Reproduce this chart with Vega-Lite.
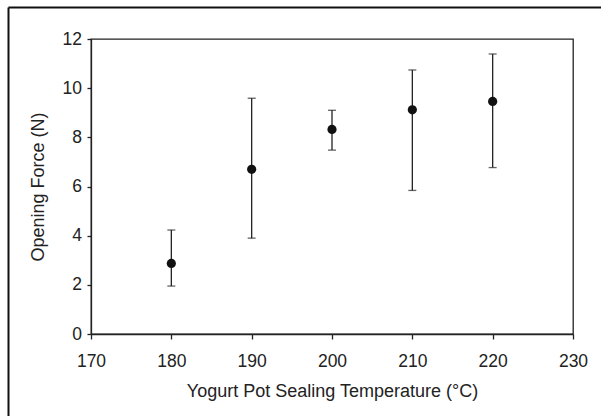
{
  "$schema": "https://vega.github.io/schema/vega-lite/v6.json",
  "width": 482,
  "height": 295,
  "autosize": "none",
  "padding": {"left": 91, "top": 39, "right": 28, "bottom": 82},
  "background": "white",
  "config": {
    "view": {"stroke": "#222", "strokeWidth": 1.3},
    "font": "Liberation Sans",
    "axis": {
      "grid": false,
      "domainColor": "#222",
      "domainWidth": 1.3,
      "tickColor": "#222",
      "tickWidth": 1.3,
      "labelColor": "#222",
      "titleColor": "#222",
      "labelFont": "Liberation Sans",
      "titleFont": "Liberation Sans",
      "labelFontSize": 17.5,
      "titleFontSize": 18,
      "titleFontWeight": "normal",
      "labelFlush": false,
      "labelOverlap": false
    }
  },
  "data": {
    "values": [
      {"temp": 180, "force": 2.87, "low": 1.95, "high": 4.23},
      {"temp": 190, "force": 6.70, "low": 3.90, "high": 9.59},
      {"temp": 200, "force": 8.32, "low": 7.48, "high": 9.10},
      {"temp": 210, "force": 9.12, "low": 5.84, "high": 10.74},
      {"temp": 220, "force": 9.46, "low": 6.77, "high": 11.39}
    ]
  },
  "layer": [
    {
      "mark": {"type": "rule", "color": "#222", "strokeWidth": 1.3},
      "encoding": {
        "x": {
          "field": "temp",
          "type": "quantitative",
          "scale": {"domain": [170, 230], "nice": false, "zero": false},
          "axis": {
            "title": "Yogurt Pot Sealing Temperature (°C)",
            "values": [170, 180, 190, 200, 210, 220, 230],
            "tickSize": 5,
            "labelPadding": 13,
            "titlePadding": 13
          }
        },
        "y": {
          "field": "low",
          "type": "quantitative",
          "scale": {"domain": [0, 12], "nice": false},
          "axis": {
            "title": "Opening Force (N)",
            "values": [0, 2, 4, 6, 8, 10, 12],
            "tickSize": 4,
            "labelPadding": 5.5,
            "titlePadding": 15
          }
        },
        "y2": {"field": "high"}
      }
    },
    {
      "mark": {"type": "tick", "orient": "horizontal", "color": "#222", "size": 8, "thickness": 1.3},
      "encoding": {
        "x": {"field": "temp", "type": "quantitative"},
        "y": {"field": "low", "type": "quantitative"}
      }
    },
    {
      "mark": {"type": "tick", "orient": "horizontal", "color": "#222", "size": 8, "thickness": 1.3},
      "encoding": {
        "x": {"field": "temp", "type": "quantitative"},
        "y": {"field": "high", "type": "quantitative"}
      }
    },
    {
      "mark": {"type": "circle", "color": "#111", "size": 85, "opacity": 1},
      "encoding": {
        "x": {"field": "temp", "type": "quantitative"},
        "y": {"field": "force", "type": "quantitative"}
      }
    },
    {
      "data": {"values": [{}]},
      "mark": {"type": "rule", "color": "#111", "strokeWidth": 2, "clip": false},
      "encoding": {
        "x": {"datum": 159.73, "type": "quantitative"},
        "y": {"datum": 13.28, "type": "quantitative"},
        "y2": {"datum": -3.4}
      }
    },
    {
      "data": {"values": [{}]},
      "mark": {"type": "rule", "color": "#111", "strokeWidth": 2, "clip": false},
      "encoding": {
        "x": {"datum": 159.73, "type": "quantitative"},
        "x2": {"datum": 233.5},
        "y": {"datum": 13.28, "type": "quantitative"}
      }
    }
  ]
}
